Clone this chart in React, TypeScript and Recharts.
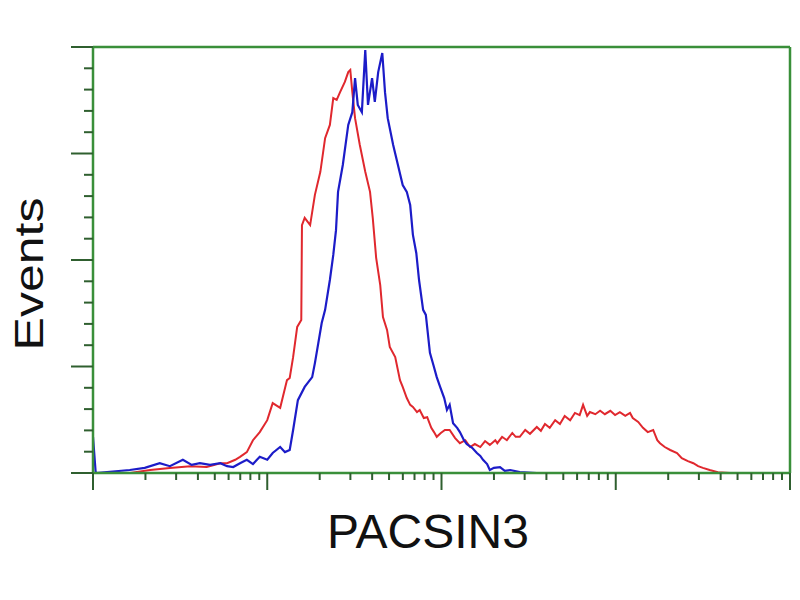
import React from 'react'
import { LineChart, Line, XAxis, YAxis, ReferenceLine, Label } from 'recharts'

// channel scale: 1024 channels over 4 log decades
const redCh = [55, 62, 84, 113, 143, 167, 187, 197, 209, 216, 226, 235, 245, 256, 264, 275, 285, 289, 294, 300, 306, 307, 311, 319, 326, 334, 341, 348, 353, 358, 363, 370, 375, 378, 381, 385, 392, 400, 407, 411, 416, 422, 426, 432, 436, 444, 451, 455, 461, 466, 470, 476, 480, 486, 491, 497, 501, 505, 511, 517, 524, 532, 539, 547, 554, 561, 569, 576, 583, 591, 594, 601, 608, 616, 621, 627, 635, 642, 652, 658, 664, 671, 679, 686, 693, 701, 708, 715, 720, 726, 730, 738, 745, 752, 760, 767, 774, 782, 789, 793, 801, 808, 815, 823, 829, 833, 840, 848, 858, 865, 874, 882, 889, 896, 906, 918, 936]
const redCount = [0, 0.2, 0.7, 1.2, 1.6, 1.4, 2.3, 2.3, 3.1, 3.8, 4.9, 7.7, 9.6, 12.4, 16.4, 15.3, 21.8, 22.3, 27.2, 34.3, 35.9, 58.2, 59.9, 58.2, 65.3, 70.7, 78.6, 81.7, 88.0, 87.6, 89.4, 91.8, 94.1, 94.6, 89.4, 83.3, 77.0, 70.7, 66.0, 59.9, 50.5, 44.1, 36.6, 33.6, 29.6, 27.2, 21.8, 20.2, 17.6, 16.0, 15.5, 14.3, 14.8, 12.9, 13.1, 10.6, 9.6, 8.5, 9.4, 10.1, 10.1, 8.2, 7.0, 7.7, 6.1, 6.8, 6.1, 7.5, 6.6, 7.7, 7.0, 8.5, 7.7, 9.4, 8.5, 8.5, 10.1, 9.2, 10.8, 9.9, 11.5, 10.6, 12.4, 11.5, 13.4, 12.4, 14.1, 13.6, 16.0, 13.4, 14.3, 13.8, 14.6, 13.8, 14.6, 13.6, 14.3, 13.4, 14.1, 12.9, 12.0, 10.6, 9.6, 10.1, 7.7, 7.0, 6.1, 5.4, 4.7, 3.5, 2.8, 2.3, 1.6, 1.2, 0.7, 0.2, 0]

const blueCh = [0, 4, 54, 76, 98, 113, 132, 145, 157, 172, 187, 197, 206, 216, 226, 235, 245, 256, 264, 275, 282, 289, 294, 301, 311, 322, 326, 331, 336, 341, 348, 353, 357, 360, 367, 375, 381, 385, 389, 395, 400, 404, 410, 414, 419, 425, 429, 433, 441, 448, 455, 461, 466, 470, 475, 479, 485, 489, 495, 500, 505, 510, 516, 520, 524, 529, 535, 539, 545, 549, 557, 564, 569, 573, 579, 583, 589, 598, 605, 613, 627, 652]
const blueCount = [8.5, 0, 0.7, 1.2, 2.3, 1.6, 3.1, 1.9, 2.3, 1.9, 2.3, 1.6, 1.4, 2.3, 3.1, 2.1, 3.8, 3.1, 4.7, 6.1, 4.9, 5.4, 10.1, 17.1, 20.2, 22.5, 25.8, 30.5, 35.2, 38.3, 45.3, 51.2, 57.0, 66.0, 72.3, 81.7, 84.7, 92.7, 86.4, 84.7, 99.3, 86.4, 92.7, 87.1, 94.1, 98.6, 89.4, 83.3, 77.0, 72.3, 67.6, 66.0, 62.9, 55.9, 51.6, 45.3, 38.3, 37.1, 28.2, 25.4, 22.5, 20.2, 17.6, 14.8, 16.0, 11.7, 10.6, 9.6, 7.7, 6.8, 5.9, 4.7, 4.0, 3.1, 2.1, 0.7, 1.2, 1.4, 0.5, 0.7, 0.2, 0]

const yMajor = [0, 25, 50, 75, 100]
const yTicks = [0, 5, 10, 15, 20, 25, 30, 35, 40, 45, 50, 55, 60, 65, 70, 75, 80, 85, 90, 95, 100]
const xMajor = [0, 256, 512, 768, 1024]

const xTicks: number[] = []
xMajor.forEach((d) => {
  xTicks.push(d)
  if (d < 1024) {
    for (let k = 2; k <= 9; k++) xTicks.push(d + 256 * Math.log10(k))
  }
})

const redData = redCh.map((ch, i) => ({ ch, count: redCount[i] }))
const blueData = blueCh.map((ch, i) => ({ ch, count: blueCount[i] }))

const green = '#3a8f3a'
const font = '"Liberation Sans", Arial, sans-serif'

const XTick = ({ x, y, payload }: any) => {
  const major = xMajor.includes(payload.value)
  return <line x1={x} y1={y} x2={x} y2={y + (major ? 17 : 7)} stroke="#2f5f2f" strokeWidth={2} />
}

const YTick = ({ x, y, payload }: any) => {
  const major = yMajor.includes(payload.value)
  return <line x1={x} y1={y} x2={x - (major ? 22 : 9)} y2={y} stroke="#2f5f2f" strokeWidth={2} />
}

export default function App() {
  return (
    <div style={{ position: 'absolute', left: 0, top: 0, width: 800, height: 600, background: '#fff' }}>
      <LineChart width={800} height={600} margin={{ top: 47, right: 10, left: 53, bottom: 97 }}>
        <XAxis
          type="number"
          dataKey="ch"
          domain={[0, 1024]}
          ticks={xTicks}
          interval={0}
          tickSize={0}
          tickMargin={0}
          tick={<XTick />}
          height={30}
          axisLine={{ stroke: green, strokeWidth: 2.5 }}
          allowDataOverflow
        >
          <Label
            content={() => (
              <text x={428} y={548} textAnchor="middle" fontFamily={font} fontSize={48} fill="#111">
                PACSIN3
              </text>
            )}
          />
        </XAxis>
        <YAxis
          type="number"
          domain={[0, 100]}
          ticks={yTicks}
          interval={0}
          tickSize={0}
          tickMargin={0}
          tick={<YTick />}
          width={40}
          axisLine={{ stroke: green, strokeWidth: 2.5 }}
          allowDataOverflow
        >
          <Label
            content={() => (
              <text
                transform="translate(43,274) rotate(-90) scale(1.25,1)"
                textAnchor="middle"
                fontFamily={font}
                fontSize={40}
                fill="#111"
              >
                Events
              </text>
            )}
          />
        </YAxis>
        <ReferenceLine y={100} stroke={green} strokeWidth={2.5} />
        <ReferenceLine x={1024} stroke={green} strokeWidth={2.5} />
        <Line
          data={redData}
          dataKey="count"
          type="linear"
          stroke="#e0282e"
          strokeWidth={2}
          dot={false}
          isAnimationActive={false}
        />
        <Line
          data={blueData}
          dataKey="count"
          type="linear"
          stroke="#1c1cc8"
          strokeWidth={2.2}
          dot={false}
          isAnimationActive={false}
        />
      </LineChart>
    </div>
  )
}
